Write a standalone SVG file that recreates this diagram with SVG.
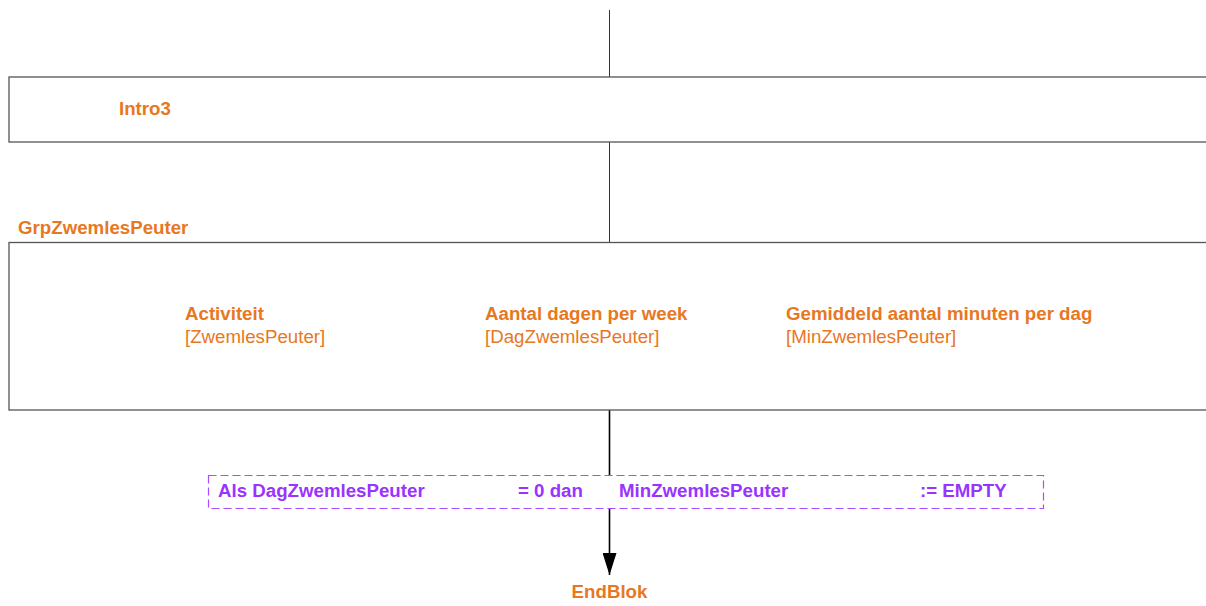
<svg xmlns="http://www.w3.org/2000/svg" width="1206" height="606" viewBox="0 0 1206 606">
<style>
.box{fill:#fff;stroke:#555;stroke-width:1.3}
.t{font-family:"Liberation Sans",Arial,sans-serif;font-size:18.7px;fill:#e87722}
.b{font-weight:bold}
.c{font-family:"Liberation Sans",Arial,sans-serif;font-size:18.7px;font-weight:bold;fill:#9933ff}
.cond{fill:#fff;stroke:#a94dff;stroke-width:1.2;stroke-dasharray:8 4}
.thin{stroke:#333;stroke-width:1;fill:none}
.thick{stroke:#000;stroke-width:1.6;fill:none}
</style>
<defs>
<marker id="ah" markerWidth="22" markerHeight="14" refX="22" refY="7" orient="auto" markerUnits="userSpaceOnUse" viewBox="0 0 22 14">
<path d="M0,0 L22,7 L0,14 Z" fill="#000"/>
</marker>
</defs>
<rect width="1206" height="606" fill="#fff"/>
<g id="connectors">
<line class="thin" x1="609.5" y1="10" x2="609.5" y2="77"/>
<line class="thin" x1="609.5" y1="142" x2="609.5" y2="242"/>
<path class="thick" d="M609.5,410 L609.5,575" marker-end="url(#ah)"/>
</g>
<g id="intro3">
<rect class="box" x="9" y="77" width="1210" height="65"/>
<text class="t b" x="119" y="115">Intro3</text>
</g>
<g id="grpZwemlesPeuter">
<text class="t b" x="18" y="234">GrpZwemlesPeuter</text>
<rect class="box" x="9" y="242.5" width="1210" height="167.5"/>
<text class="t b" x="185" y="320">Activiteit</text>
<text class="t" x="185" y="343">[ZwemlesPeuter]</text>
<text class="t b" x="485" y="320">Aantal dagen per week</text>
<text class="t" x="485" y="343">[DagZwemlesPeuter]</text>
<text class="t b" x="786" y="320">Gemiddeld aantal minuten per dag</text>
<text class="t" x="786" y="343">[MinZwemlesPeuter]</text>
</g>
<g id="condition">
<rect class="cond" x="208.5" y="475.5" width="835" height="33"/>
<text class="c" x="218" y="497">Als DagZwemlesPeuter</text>
<text class="c" x="518" y="497">= 0 dan</text>
<text class="c" x="619" y="497">MinZwemlesPeuter</text>
<text class="c" x="920" y="497">:= EMPTY</text>
</g>
<g id="endBlok">
<text class="t b" x="609.5" y="598" text-anchor="middle">EndBlok</text>
</g>
</svg>
